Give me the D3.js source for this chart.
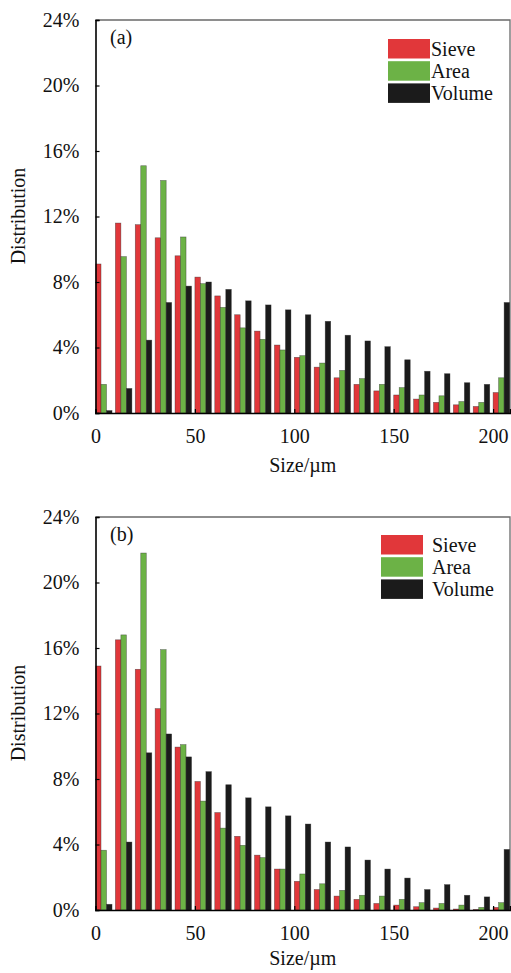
<!DOCTYPE html>
<html>
<head>
<meta charset="utf-8">
<script src="https://cdn.jsdelivr.net/npm/d3@7"></script>
<style>
  body { margin: 0; background: #fff; }
  text { font-family: "Liberation Serif", "DejaVu Serif", serif; fill: #111; }
</style>
</head>
<body>
<div id="chart"></div>
<script>
// 粒径クラス(µm)
var sizes = [0, 10, 20, 30, 40, 50, 60, 70, 80, 90, 100, 110, 120, 130, 140, 150, 160, 170, 180, 190, 200];

// (a) の分布 (%)
var sieveA = [9.1, 11.6, 11.5, 10.7, 9.6, 8.3, 7.15, 6.0, 5.0, 4.15, 3.4, 2.8, 2.15, 1.75, 1.35, 1.1, 0.85, 0.65, 0.5, 0.4, 1.25];
var areaA = [1.75, 9.55, 15.1, 14.2, 10.75, 7.9, 6.45, 5.2, 4.5, 3.85, 3.5, 3.05, 2.6, 2.1, 1.75, 1.55, 1.1, 1.05, 0.7, 0.65, 2.15];
var volumeA = [0.15, 1.5, 4.45, 6.75, 7.75, 8.0, 7.55, 6.85, 6.6, 6.3, 6.0, 5.6, 4.75, 4.4, 4.05, 3.25, 2.55, 2.4, 1.85, 1.75, 6.75];

// (b) の分布 (%)
var sieveB = [14.9, 16.5, 14.7, 12.3, 9.95, 7.85, 5.95, 4.5, 3.35, 2.5, 1.75, 1.25, 0.85, 0.65, 0.4, 0.3, 0.2, 0.12, 0.06, 0.03, 0.16];
var areaB = [3.65, 16.8, 21.8, 15.9, 10.1, 6.65, 5.0, 3.95, 3.2, 2.5, 2.2, 1.6, 1.2, 0.9, 0.85, 0.65, 0.45, 0.4, 0.3, 0.16, 0.45];
var volumeB = [0.35, 4.15, 9.6, 10.75, 9.35, 8.45, 7.65, 6.85, 6.3, 5.75, 5.25, 4.15, 3.85, 3.05, 2.5, 1.95, 1.25, 1.55, 0.9, 0.8, 3.7];

// 目盛り
var yTicks = [0, 4, 8, 12, 16, 20, 24];
var xTicks = [0, 50, 100, 150, 200];

// 系列名と色
var seriesNames = ['Sieve', 'Area', 'Volume'];
var seriesColors = ['#e1373a', '#6cb246', '#1b1b1b'];

var width = 511;
var height = 973;

var svg = d3.select('#chart').append('svg')
  .attr('width', width)
  .attr('height', height);

// 1パネル分の描画
function drawPanel(opt) {
  var left = 95.5;
  var right = 510;
  var top = opt.top;
  var bottom = opt.top + 393;

  var x = d3.scaleLinear().domain([0, 208.5]).range([left, right]);
  var y = d3.scaleLinear().domain([0, 24]).range([bottom, top]);

  // 棒の幅 (µm単位)
  var barW = 2.77;

  var g = svg.append('g');

  // クリップ
  g.append('clipPath').attr('id', 'clip-' + opt.id)
    .append('rect')
    .attr('x', left).attr('y', top)
    .attr('width', right - left).attr('height', bottom - top);

  // 枠 (上と右は灰色)
  g.append('path')
    .attr('d', 'M' + left + ',' + top + 'H' + right + 'V' + bottom)
    .attr('fill', 'none')
    .attr('stroke', '#6a6a6a')
    .attr('stroke-width', 1.3);

  var rows = [opt.sieve, opt.area, opt.volume];
  var barsG = g.append('g').attr('clip-path', 'url(#clip-' + opt.id + ')');

  rows.forEach(function(vals, k) {
    barsG.selectAll('.bar-' + k)
      .data(sizes.map(function(s, i) { return {size: s, value: vals[i]}; }))
      .enter()
      .append('rect')
      .attr('class', 'bar-' + k)
      .attr('x', function(d) { return x(d.size + k * barW); })
      .attr('y', function(d) { return y(d.value); })
      .attr('width', x(barW) - x(0))
      .attr('height', function(d) { return y(0) - y(d.value); })
      .attr('fill', seriesColors[k])
      .attr('stroke', '#2a2a2a')
      .attr('stroke-opacity', 0.6)
      .attr('stroke-width', 0.6);
  });

  // Y軸
  var yAxis = d3.axisLeft(y)
    .tickValues(yTicks)
    .tickSize(-4)
    .tickPadding(16)
    .tickFormat(function(d) { return d + '%'; });
  var yG = g.append('g')
    .attr('transform', 'translate(' + left + ',0)')
    .call(yAxis);

  // X軸
  var xAxis = d3.axisBottom(x)
    .tickValues(xTicks)
    .tickSize(-4)
    .tickPadding(16)
    .tickFormat(d3.format('d'));
  var xG = g.append('g')
    .attr('transform', 'translate(0,' + bottom + ')')
    .call(xAxis);

  [yG, xG].forEach(function(ax) {
    ax.select('.domain').attr('stroke', '#000').attr('stroke-width', 1.6);
    ax.selectAll('.tick line').attr('stroke', '#000').attr('stroke-width', 1.2);
    ax.selectAll('.tick text')
      .attr('font-family', '"Liberation Serif", serif')
      .attr('font-size', 20)
      .attr('fill', '#111');
  });
  xG.selectAll('.tick text').attr('dy', '0.71em');

  // パネル記号
  g.append('text')
    .attr('x', 110)
    .attr('y', top + 24)
    .attr('font-size', 20)
    .text(opt.label);

  // 凡例
  var lg = g.append('g');
  seriesNames.forEach(function(name, k) {
    lg.append('rect')
      .attr('x', opt.legendX)
      .attr('y', opt.legendY + k * 22.2)
      .attr('width', 42)
      .attr('height', 19.5)
      .attr('fill', seriesColors[k]);
    lg.append('text')
      .attr('x', opt.legendTextX)
      .attr('y', opt.legendY + k * 22.2 + 17)
      .attr('font-size', 20)
      .text(name);
  });

  // 軸タイトル
  g.append('text')
    .attr('transform', 'translate(25,' + (top + 196) + ') rotate(-90)')
    .attr('text-anchor', 'middle')
    .attr('font-size', 20)
    .text('Distribution');

  g.append('text')
    .attr('x', (left + right) / 2)
    .attr('y', bottom + opt.xTitleOffset)
    .attr('text-anchor', 'middle')
    .attr('font-size', 20)
    .text('Size/\u00b5m');
}

drawPanel({id: 'a', top: 20, label: '(a)', sieve: sieveA, area: areaA, volume: volumeA,
  legendX: 388, legendY: 39, legendTextX: 431, xTitleOffset: 59});
drawPanel({id: 'b', top: 517, label: '(b)', sieve: sieveB, area: areaB, volume: volumeB,
  legendX: 381, legendY: 535, legendTextX: 432, xTitleOffset: 55});
</script>
</body>
</html>
